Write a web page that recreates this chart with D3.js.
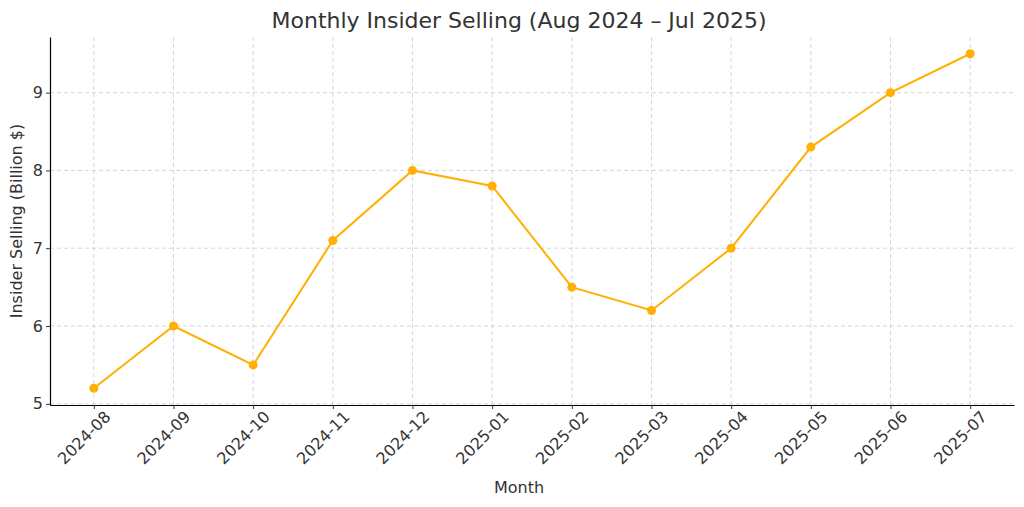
<!DOCTYPE html>
<html>
<head>
<meta charset="utf-8">
<script src="https://cdn.jsdelivr.net/npm/d3@7"></script>
<style>
  body { margin: 0; background: #fff; }
  text { font-family: "DejaVu Sans", sans-serif; fill: #333; }
</style>
</head>
<body>
<svg id="chart" width="1024" height="507"></svg>
<script>
const months = ["2024-08","2024-09","2024-10","2024-11","2024-12","2025-01","2025-02","2025-03","2025-04","2025-05","2025-06","2025-07"];
const selling = [5.2, 6.0, 5.5, 7.1, 8.0, 7.8, 6.5, 6.2, 7.0, 8.3, 9.0, 9.5];
const yTicks = [5, 6, 7, 8, 9];

const margin = {left: 50, right: 10, top: 37, bottom: 102};
const width = 1024 - margin.left - margin.right;
const height = 507 - margin.top - margin.bottom;

const svg = d3.select("#chart");
const g = svg.append("g").attr("transform", `translate(${margin.left},${margin.top})`);

const x = d3.scaleLinear().domain([-0.55, months.length - 1 + 0.55]).range([0, width]);
const y = d3.scaleLinear().domain([4.985, 9.715]).range([height, 0]);

// grid
g.append("g").selectAll("line").data(months).join("line")
  .attr("x1", (d, i) => x(i)).attr("x2", (d, i) => x(i))
  .attr("y1", 0).attr("y2", height)
  .attr("stroke", "#ccc").attr("stroke-dasharray", "4,3").attr("stroke-width", 0.8);
g.append("g").selectAll("line").data(yTicks).join("line")
  .attr("x1", 0).attr("x2", width)
  .attr("y1", d => y(d)).attr("y2", d => y(d))
  .attr("stroke", "#ccc").attr("stroke-dasharray", "4,3").attr("stroke-width", 0.8);

// axes
const xAxis = g.append("g").attr("transform", `translate(0,${height})`)
  .call(d3.axisBottom(x).tickValues(d3.range(months.length)).tickFormat(i => months[i]).tickSize(4).tickSizeOuter(0));
xAxis.selectAll("text")
  .attr("font-size", 16).attr("text-anchor", "end")
  .attr("transform", "rotate(-45)").attr("dx", "0.2em").attr("dy", "0.9em");
const yAxis = g.append("g")
  .call(d3.axisLeft(y).tickValues(yTicks).tickFormat(d3.format("d")).tickSize(4).tickSizeOuter(0));
yAxis.selectAll("text").attr("font-size", 16);
[xAxis, yAxis].forEach(a => {
  a.select(".domain").attr("stroke", "#000").attr("stroke-width", 1.2);
  a.selectAll(".tick line").attr("stroke", "#333");
});

// line
g.append("path").datum(selling)
  .attr("fill", "none").attr("stroke", "#ffb000").attr("stroke-width", 2)
  .attr("d", d3.line().x((d, i) => x(i)).y(d => y(d)));
g.selectAll("circle").data(selling).join("circle")
  .attr("cx", (d, i) => x(i)).attr("cy", d => y(d)).attr("r", 4.5)
  .attr("fill", "#ffb000");

// labels
svg.append("text").attr("x", margin.left + width / 2 - 13).attr("y", 28)
  .attr("text-anchor", "middle").attr("font-size", 22)
  .text("Monthly Insider Selling (Aug 2024 – Jul 2025)");
svg.append("text").attr("x", margin.left + width / 2 - 13).attr("y", 493)
  .attr("text-anchor", "middle").attr("font-size", 16).text("Month");
svg.append("text").attr("transform", `translate(22,${margin.top + height / 2}) rotate(-90)`)
  .attr("text-anchor", "middle").attr("font-size", 16).text("Insider Selling (Billion $)");
</script>
</body>
</html>
